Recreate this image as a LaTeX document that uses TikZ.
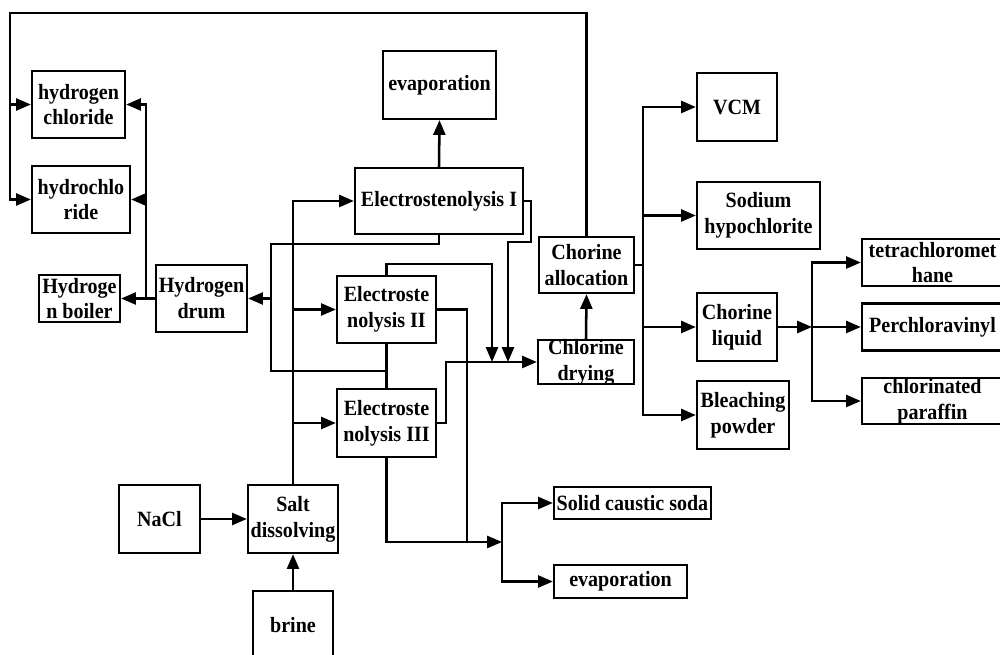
\documentclass[tikz,border=0pt]{standalone}
\usepackage{fontspec}
\setmainfont{Liberation Serif}[FakeStretch=0.92]
\usepackage{tikz}
\usetikzlibrary{arrows.meta}

\newcommand{\boxfont}{\fontsize{15.5pt}{18.4pt}\selectfont\bfseries}
\def\px{0.025cm}

\begin{document}
\begin{tikzpicture}[
			x=0.025cm, y=-0.025cm,
			>={Triangle[length=10.5pt,width=8.5pt]},
			blk/.style={draw, line width=1.6pt, inner sep=0pt},
			wh/.style 2 args={minimum width=#1*\px, minimum height=#2*\px},
			lbl/.style={font=\boxfont, align=center, inner sep=0pt},
			line/.style={line width=1.8pt},
			arr/.style={->, line width=1.8pt}
			]
			\useasboundingbox (0,0) rectangle (1000,655);
			
			% =========================================================
			% hydrogen branch (left)
			% =========================================================
			\node[blk, wh={93}{67}, label={[lbl]center:{hydrogen\\chloride}}] (hcl) at (78.5,104.5) {};
			\node[blk, wh={98}{67}, label={[lbl]center:{hydrochlo\\ride}}] (hcr) at (81,199.5) {};
			\node[blk, wh={81}{47}, label={[lbl]center:{Hydroge\\n boiler}}] (hboil) at (79.5,298.5) {};
			\node[blk, wh={91}{67}, label={[lbl]center:{Hydrogen\\drum}}] (hdrum) at (201.5,298.5) {};
			
			% =========================================================
			% electrolysis cells
			% =========================================================
			\node[blk, wh={113}{68}, label={[lbl]center:evaporation}] (evapT) at (439.5,85) {};
			\node[blk, wh={168}{66}, label={[lbl]center:Electrostenolysis I}] (E1) at (439,201) {};
			\node[blk, wh={99}{67}, label={[lbl]center:{Electroste\\nolysis II}}] (E2) at (386.5,309.5) {};
			\node[blk, wh={99}{68}, label={[lbl]center:{Electroste\\nolysis III}}] (E3) at (386.5,423) {};
			
			% =========================================================
			% chlorine branch (right)
			% =========================================================
			\node[blk, wh={96}{44}, label={[lbl]center:{Chlorine\\drying}}] (dry) at (586,362) {};
			\node[blk, wh={95}{56}, label={[lbl]center:{Chorine\\allocation}}] (alloc) at (586.5,265) {};
			\node[blk, wh={80}{68}, label={[lbl]center:VCM}] (vcm) at (737,107) {};
			\node[blk, wh={123}{67}, label={[lbl]center:{Sodium\\hypochlorite}}] (naclo) at (758.5,215.5) {};
			\node[blk, wh={80}{68}, label={[lbl]center:{Chorine\\liquid}}] (liq) at (737,327) {};
			\node[blk, wh={92}{68}, label={[lbl]center:{Bleaching\\powder}}] (bleach) at (743,415) {};
			\node[blk, wh={141}{47}, label={[lbl]center:{tetrachloromet\\hane}}] (tetra) at (932.5,262.5) {};
			\node[blk, wh={141}{47}, label={[lbl]center:Perchloravinyl}] (perc) at (932.5,327) {};
			\node[blk, wh={141}{46}, label={[lbl]center:{chlorinated\\paraffin}}] (cpar) at (932.5,401) {};
			
			% =========================================================
			% salt feed and caustic soda (bottom)
			% =========================================================
			\node[blk, wh={81}{68}, label={[lbl]center:NaCl}] (nacl) at (159.5,519) {};
			\node[blk, wh={90}{68}, label={[lbl]center:{Salt\\dissolving}}] (salt) at (293,519) {};
			\node[blk, wh={80}{68}, label={[lbl]center:brine}] (brine) at (293,625) {};
			\node[blk, wh={157}{32}, label={[lbl]center:Solid caustic soda}] (soda) at (632.5,503) {};
			\node[blk, wh={133}{33}, label={[lbl]center:evaporation}] (evapB) at (620.5,581.5) {};
			
			% junctions
			\coordinate (hx) at (146,298.5);
			\coordinate (lp) at (10,13);
			\coordinate (hb) at (271,244);
			\coordinate (hc) at (386.5,371);
			\coordinate (m1) at (492,362);
			\coordinate (m2) at (508,362);
			\coordinate (cj) at (467,542);
			\coordinate (sj) at (502,542);
			\coordinate (aj) at (643,265);
			\coordinate (lj) at (812,327);
			
			% hydrogen distribution
			\draw[arr] (hdrum.west) -- (hboil.east);
			\draw[arr] (hx) |- (hcl.east);
			\draw[arr] (hx |- hcr) -- (hcr.east);
			
			% chlorine back to the hydrogen chloride units (top loop)
			\draw[arr] (alloc.north) |- (lp) |- (hcr.west);
			\draw[arr] (lp |- hcl) -- (hcl.west);
			
			% hydrogen out of the cells
			\draw[line] (E1.south) |- (hb) |- (hc);
			\draw[line] (E2.south) -- (E3.north);
			\draw[arr] (hb |- hdrum) -- (hdrum.east);
			
			% brine feed to the cells
			\draw[arr] (nacl.east) -- (salt.west);
			\draw[arr] (brine.north) -- (salt.south);
			\draw[arr] (salt.north) |- (E1.west);
			\draw[arr] (salt.north |- E2) -- (E2.west);
			\draw[arr] (salt.north |- E3) -- (E3.west);
			\draw[arr] (E1.north) -- (evapT.south);
			
			% chlorine to drying
			\draw[arr] (E2.north) -- ++(0,-11) -| (m1);
			\draw[arr] (E1.east) -- ++(7,0) -- ++(0,41) -| (m2);
			\draw[arr] (E3.east) -- ++(9,0) |- (dry.west);
			\draw[arr] (dry.north) -- (alloc.south);
			
			% caustic soda
			\draw[line] (E2.east) -| (cj);
			\draw[arr] (E3.south) |- (sj);
			\draw[arr] (sj) |- (soda.west);
			\draw[arr] (sj) |- (evapB.west);
			
			% chlorine allocation
			\draw[line] (alloc.east) -- (aj);
			\draw[arr] (aj) |- (vcm.west);
			\draw[arr] (aj) |- (naclo.west);
			\draw[arr] (aj) |- (liq.west);
			\draw[arr] (aj) |- (bleach.west);
			
			% liquid chlorine products
			\draw[arr] (liq.east) -- (lj);
			\draw[arr] (lj) |- (tetra.west);
			\draw[arr] (lj) -- (perc.west);
			\draw[arr] (lj) |- (cpar.west);
			
		\end{tikzpicture}
\end{document}
